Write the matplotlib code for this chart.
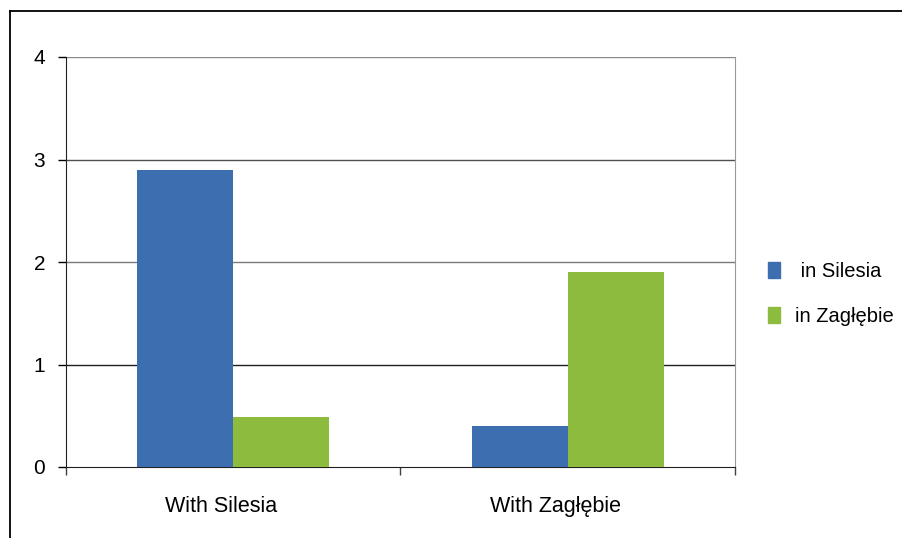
import numpy as np
import matplotlib.pyplot as plt
import matplotlib.transforms as mtransforms
from matplotlib.lines import Line2D
from matplotlib.patches import Patch

plt.rcParams['font.family'] = ['Liberation Sans', 'DejaVu Sans']

categories = ["With Silesia", "With Zagłębie"]
series_names = [" in Silesia", "in Zagłębie"]
in_silesia = [2.9, 0.4]
in_zaglebie = [0.49, 1.9]
colors = ["#3d6fb0", "#8cbb3e"]
y_ticks = [0, 1, 2, 3, 4]

fig = plt.figure(figsize=(9.03, 5.38), dpi=100)
W, H = 903, 538
ax = fig.add_axes([66 / W, 1 - 467 / H, (735 - 66) / W, (467 - 57) / H])

x = np.arange(len(categories))
width = 0.287
ax.bar(x - width / 2, in_silesia, width, color=colors[0], zorder=3)
ax.bar(x + width / 2, in_zaglebie, width, color=colors[1], zorder=3)

ax.set_xlim(-0.5, len(categories) - 0.5)
ax.set_ylim(0, 4)

# horizontal grid lines
grid_colors = {1: "#202020", 2: "#7a7a7a", 3: "#505050", 4: "#8a8a8a"}
for v, c in grid_colors.items():
    ax.axhline(v, color=c, lw=1, zorder=1)

ax.set_yticks(y_ticks)
ax.set_yticklabels([str(t) for t in y_ticks], fontsize=15)
ax.tick_params(axis="y", direction="out", length=6, width=1, pad=9)

ax.set_xticks(x)
ax.set_xticklabels(categories, fontsize=15.5)
ax.tick_params(axis="x", which="major", length=0, pad=21)
ax.set_xticks(np.arange(len(categories) + 1) - 0.5, minor=True)
ax.tick_params(axis="x", which="minor", direction="out", length=6, width=1, color="#404040")

# category labels sit a little left of the group centres
shift = mtransforms.ScaledTranslation(-12 / 100, 0, fig.dpi_scale_trans)
for lbl in ax.get_xticklabels():
    lbl.set_transform(lbl.get_transform() + shift)

ax.spines["left"].set_color("#202020")
ax.spines["bottom"].set_color("#202020")
ax.spines["top"].set_visible(False)
ax.spines["right"].set_color("#9a9a9a")

handles = [Patch(color=c) for c in colors]
fig.legend(handles, series_names, loc="center left",
           bbox_to_anchor=(750 / W, 1 - 294 / H), frameon=False,
           fontsize=14.5, handlelength=0.6, handleheight=0.8,
           handletextpad=0.75, labelspacing=1.3)

# outer frame around the chart
fig.add_artist(Line2D([10.5 / W, 10.5 / W], [0, 1 - 11 / H], color="black", lw=1.3))
fig.add_artist(Line2D([10.5 / W, 1], [1 - 11 / H, 1 - 11 / H], color="black", lw=1.3))

fig.savefig("out.png", dpi=100)
